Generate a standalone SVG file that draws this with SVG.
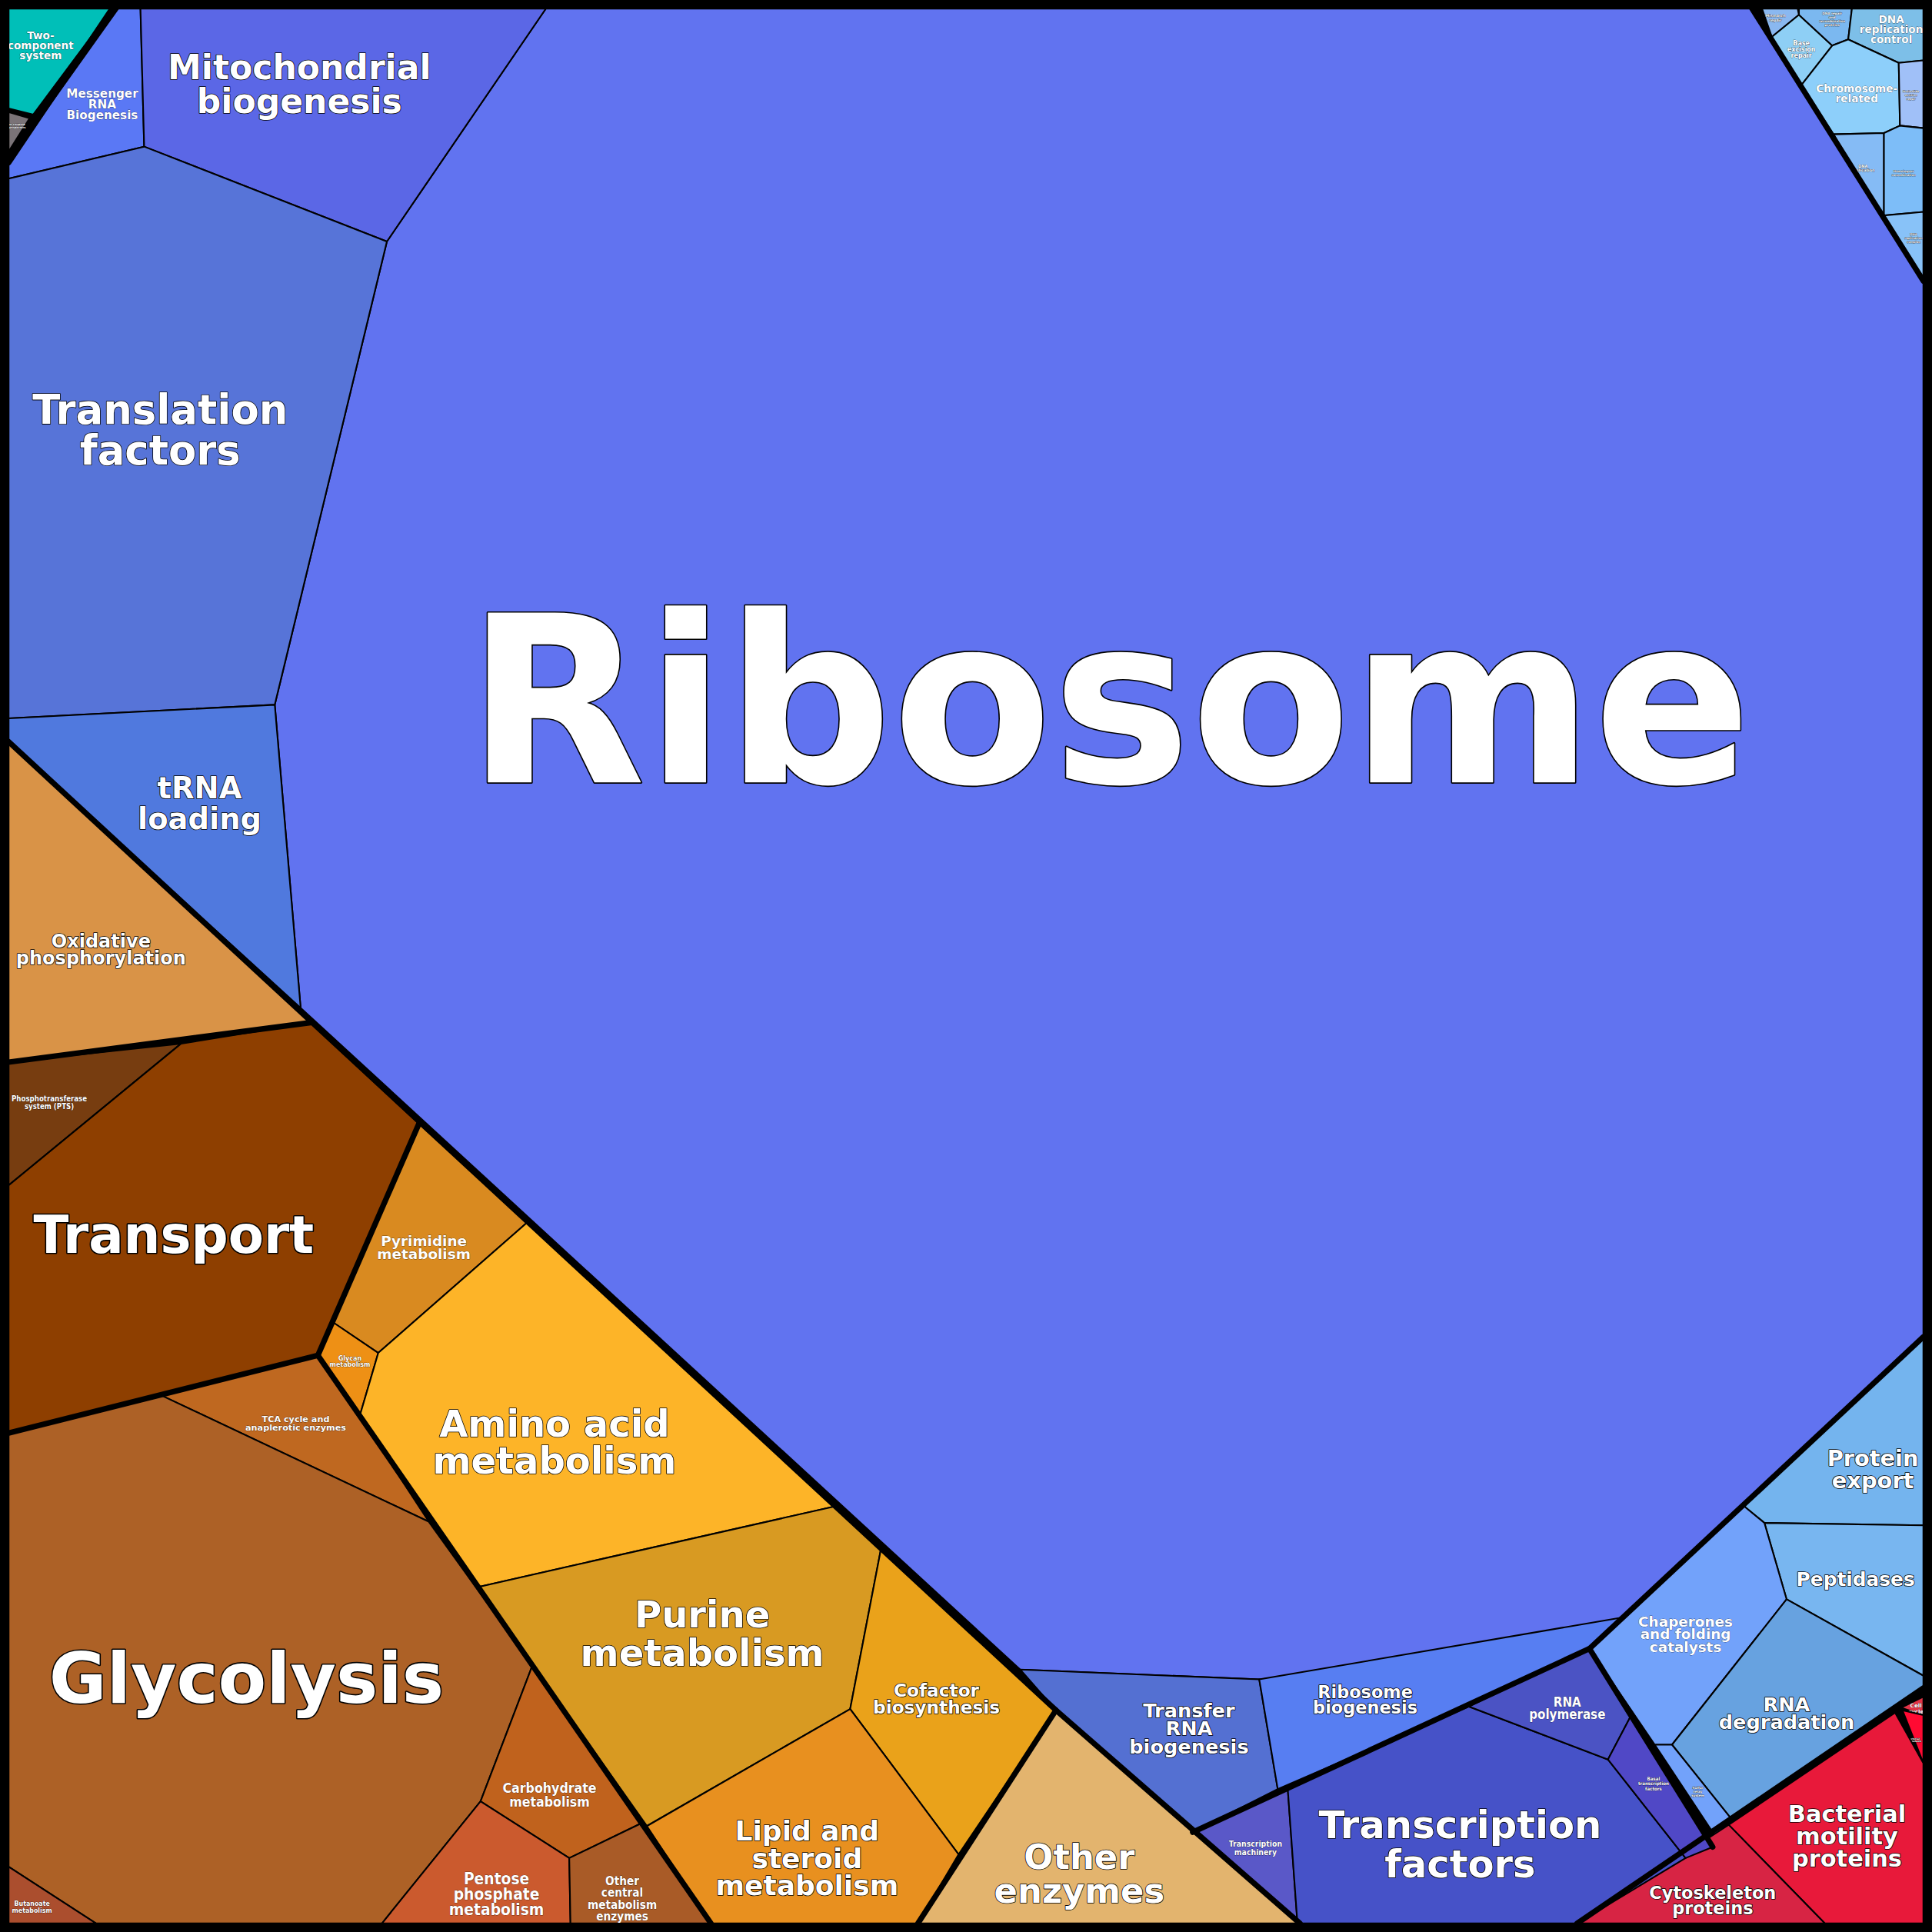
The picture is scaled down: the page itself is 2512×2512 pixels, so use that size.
<svg xmlns="http://www.w3.org/2000/svg" width="2512" height="2512" viewBox="0 0 2512 2512">
<defs>
<style>
.c{stroke:#000;stroke-width:1.3;stroke-linejoin:round}
.b{fill:none;stroke:#000;stroke-width:4.5;stroke-linejoin:round;stroke-linecap:round}
text{font-family:"DejaVu Sans","Liberation Sans",sans-serif;fill:#fff;text-anchor:middle;font-weight:bold;stroke:#000;paint-order:stroke;stroke-linejoin:round}
.s{stroke-width:0.3}
.m{stroke-width:1}
.l{stroke-width:2}
.n{font-family:"DejaVu Sans Condensed","Liberation Sans Narrow","DejaVu Sans",sans-serif}
</style>
</defs>
<rect width="2512" height="2512" fill="#000"/>
<g transform="scale(1.60204)">
<g id="ribosome"><polygon class="c" fill="#6173F0" points="443,7 1422,7 1561,228 1561,1085 1290,1338 1022,1363 828,1355 244,818 223,572 314,196"/><text x="900" y="635" font-size="189" class="l">Ribosome</text></g>
<g id="two-component"><polygon class="c" fill="#00BFB8" points="7,7 91,7 27,93 7,88"/><text x="33" y="32" font-size="8.5" class="s">Two-<tspan x="33" dy="8">component</tspan><tspan x="33" dy="8">system</tspan></text></g>
<g id="ion"><polygon class="c" fill="#7A7377" points="7,91 24,96 7,123"/><text x="13" y="102" font-size="2.2" class="s">Ion-coupled<tspan x="13" dy="2.5">transporters</tspan></text></g>
<g id="messenger"><polygon class="c" fill="#5A78F5" points="96,7 114,7 117,119 7,145 7,132"/><text x="83" y="79" font-size="9.5" class="s" font-weight="normal">Messenger<tspan x="83" dy="9">RNA</tspan><tspan x="83" dy="9">Biogenesis</tspan></text></g>
<g id="mito"><polygon class="c" fill="#5B67E6" points="114,7 443,7 314,196 117,119"/><text x="243" y="64" font-size="27.5" class="m">Mitochondrial<tspan x="243" dy="28">biogenesis</tspan></text></g>
<g id="translation"><polygon class="c" fill="#5774D8" points="7,145 117,119 314,196 223,572 7,583"/><text x="130" y="344" font-size="33" class="m">Translation<tspan x="130" dy="33">factors</tspan></text></g>
<g id="trna"><polygon class="c" fill="#5079DE" points="7,583 223,572 244,818 7,602"/><text x="162" y="648" font-size="24" class="m">tRNA<tspan x="162" dy="25">loading</tspan></text></g>

<g id="mismatch"><polygon class="c" fill="#8AB8F0" points="1430,7 1459,7 1460,12 1438,30"/><text x="1441" y="14" font-size="3" class="s">Mismatch<tspan x="1441" dy="3.5">repair</tspan></text></g>
<g id="base-excision"><polygon class="c" fill="#8ECFF5" points="1438,30 1460,12 1487,37 1462,69"/><text x="1462" y="37" font-size="5" class="s">Base<tspan x="1462" dy="5">excision</tspan><tspan x="1462" dy="5">repair</tspan></text></g>
<g id="dna-repair"><polygon class="c" fill="#7BB8F0" points="1460,7 1503,7 1500,32 1487,37 1460,12"/><text x="1487" y="12" font-size="2.6" class="s">DNA repair<tspan x="1487" dy="3">and</tspan><tspan x="1487" dy="3">recombination</tspan><tspan x="1487" dy="3">proteins</tspan></text></g>
<g id="dna-control"><polygon class="c" fill="#7DBFE8" points="1503,7 1561,7 1561,49 1541,51 1500,32"/><text x="1535" y="19" font-size="8.5" class="s">DNA<tspan x="1535" dy="8">replication</tspan><tspan x="1535" dy="8">control</tspan></text></g>
<g id="chromosome"><polygon class="c" fill="#8DCFFA" points="1462,69 1487,37 1500,32 1541,51 1542,102 1529,108 1488,109"/><text x="1507" y="75" font-size="8.5" class="s">Chromosome-<tspan x="1507" dy="8">related</tspan></text></g>
<g id="nucleotide"><polygon class="c" fill="#A0C0F8" points="1541,51 1561,49 1561,104 1542,102"/><text x="1551" y="75" font-size="2.2" class="s">Nucleotide<tspan x="1551" dy="3">excision</tspan><tspan x="1551" dy="3">repair</tspan></text></g>
<g id="dna-replication"><polygon class="c" fill="#85BBF5" points="1488,109 1529,108 1529,175 1527,175"/><text x="1512" y="136" font-size="3.2" class="s">DNA<tspan x="1512" dy="3.5">replication</tspan></text></g>
<g id="homologous"><polygon class="c" fill="#7DBDF8" points="1529,108 1542,102 1561,104 1561,172 1529,175"/><text x="1545" y="140" font-size="2.4" class="s">Homologous<tspan x="1545" dy="3">recombination</tspan></text></g>
<g id="dna-complex"><polygon class="c" fill="#88C2F8" points="1527,175 1561,172 1561,228"/><text x="1553" y="191" font-size="2.4" class="s">DNA<tspan x="1553" dy="3">replication</tspan><tspan x="1553" dy="3">complex</tspan></text></g>

<g id="protein-export"><polygon class="c" fill="#74B4EE" points="1561,1085 1415,1222 1432,1236 1561,1238"/><text x="1520" y="1190" font-size="18" class="m">Protein<tspan x="1520" dy="18">export</tspan></text></g>
<g id="peptidases"><polygon class="c" fill="#78B6F0" points="1432,1236 1561,1238 1561,1360 1450,1298"/><text x="1506" y="1287" font-size="15.5" class="m">Peptidases</text></g>
<g id="chaperones"><polygon class="c" fill="#72A2FA" points="1415,1222 1432,1236 1450,1298 1357,1416 1343,1416 1290,1338"/><text x="1368" y="1320" font-size="11.5" class="s" font-weight="normal">Chaperones<tspan x="1368" dy="10.5">and folding</tspan><tspan x="1368" dy="10.5">catalysts</tspan></text></g>
<g id="rna-degradation"><polygon class="c" fill="#67A2E0" points="1450,1298 1561,1360 1561,1370 1405,1476 1357,1416"/><text x="1450" y="1389" font-size="16" class="m">RNA<tspan x="1450" dy="14">degradation</tspan></text></g>
<g id="sulfur"><polygon class="c" fill="#72A2FA" points="1343,1416 1357,1416 1405,1476 1392,1490"/><text x="1378" y="1452" font-size="2.6" class="s">Sulfur<tspan x="1378" dy="3">relay</tspan><tspan x="1378" dy="3">system</tspan></text></g>

<g id="cell-cycle"><polygon class="c" fill="#E23346" points="1543,1386 1561,1377 1561,1392"/><text x="1555" y="1386" font-size="4.5" class="s">Cell<tspan x="1555" dy="4.5">cycle</tspan></text></g>
<g id="chemotaxis"><polygon class="c" fill="#FF0A32" points="1544,1388 1561,1392 1561,1431"/><text x="1553" y="1412" font-size="2" class="s">Bacterial<tspan x="1553" dy="2">chemotaxis</tspan></text></g>
<g id="motility"><polygon class="c" fill="#E8193A" points="1403,1481 1538,1390 1561,1431 1561,1561 1481,1561"/><text x="1499" y="1479" font-size="19" class="m">Bacterial<tspan x="1499" dy="18">motility</tspan><tspan x="1499" dy="18">proteins</tspan></text></g>
<g id="cytoskeleton"><polygon class="c" fill="#D72444" points="1403,1481 1481,1561 1280,1561"/><text x="1390" y="1541" font-size="14" class="m">Cytoskeleton<tspan x="1390" dy="12.5">proteins</tspan></text></g>

<g id="transfer-rna"><polygon class="c" fill="#5470D2" points="828,1355 1022,1363 1037,1452 968,1487 857,1388"/><text x="965" y="1394" font-size="16" class="m">Transfer<tspan x="965" dy="14.5">RNA</tspan><tspan x="965" dy="14.5">biogenesis</tspan></text></g>
<g id="ribosome-biogenesis"><polygon class="c" fill="#577EF2" points="1022,1363 1315,1313 1290,1338 1192,1385 1037,1452"/><text x="1108" y="1378" font-size="14" class="m">Ribosome<tspan x="1108" dy="13">biogenesis</tspan></text></g>
<g id="transcription-machinery"><polygon class="c" fill="#5A58C8" points="968,1487 1045,1450 1053,1561 1055,1561"/><text x="1019" y="1499" font-size="6.5" class="s n">Transcription<tspan x="1019" dy="6.5">machinery</tspan></text></g>
<g id="transcription-factors"><polygon class="c" fill="#4652C8" points="1045,1450 1192,1385 1305,1428 1368,1508 1280,1561 1053,1561"/><text x="1185" y="1492" font-size="31" class="m">Transcription<tspan x="1185" dy="32">factors</tspan></text></g>
<g id="rna-polymerase"><polygon class="c" fill="#4B53C4" points="1192,1385 1290,1338 1325,1390 1305,1428"/><text x="1272" y="1385" font-size="10.5" class="s n" font-weight="normal">RNA<tspan x="1272" dy="10">polymerase</tspan></text></g>
<g id="basal"><polygon class="c" fill="#5048C6" points="1305,1428 1325,1390 1390,1499 1368,1508"/><text x="1342" y="1445" font-size="3.8" class="s n">Basal<tspan x="1342" dy="4">transcription</tspan><tspan x="1342" dy="4">factors</tspan></text></g>

<g id="oxidative"><polygon class="c" fill="#D99347" points="7,602 252,830 7,862"/><text x="82" y="769" font-size="15" class="m">Oxidative<tspan x="82" dy="14">phosphorylation</tspan></text></g>
<g id="pts"><polygon class="c" fill="#773D10" points="7,862 147,847 7,962"/><text x="40" y="894" font-size="6" class="s n">Phosphotransferase<tspan x="40" dy="6">system (PTS)</tspan></text></g>
<g id="transport"><polygon class="c" fill="#8E3F00" points="147,847 252,830 340,912 258,1100 7,1163 7,962"/><text x="141" y="1017" font-size="42" class="l">Transport</text></g>
<g id="pyrimidine"><polygon class="c" fill="#D98A20" points="340,912 428,992 307,1098 270,1073"/><text x="344" y="1011" font-size="11.5" class="s">Pyrimidine<tspan x="344" dy="11">metabolism</tspan></text></g>
<g id="glycan"><polygon class="c" fill="#EE9015" points="270,1073 307,1098 292,1149 258,1100"/><text x="284" y="1104" font-size="5" class="s" font-weight="normal">Glycan<tspan x="284" dy="5">metabolism</tspan></text></g>
<g id="tca"><polygon class="c" fill="#BF6820" points="258,1100 292,1149 348,1235 132,1133"/><text x="240" y="1154" font-size="7" class="s">TCA cycle and<tspan x="240" dy="7">anaplerotic enzymes</tspan></text></g>
<g id="glycolysis"><polygon class="c" fill="#AD6126" points="7,1163 132,1133 348,1235 432,1352 390,1462 310,1561 78,1561 7,1515"/><text x="200" y="1382" font-size="57" class="l">Glycolysis</text></g>
<g id="butanoate"><polygon class="c" fill="#AB4E2E" points="7,1515 78,1561 7,1561"/><text x="26" y="1547" font-size="5.5" class="s n">Butanoate<tspan x="26" dy="5.5">metabolism</tspan></text></g>
<g id="carbohydrate"><polygon class="c" fill="#C0621D" points="432,1352 520,1480 462,1508 390,1462"/><text x="446" y="1455" font-size="11" class="s n" font-weight="normal">Carbohydrate<tspan x="446" dy="11">metabolism</tspan></text></g>
<g id="pentose"><polygon class="c" fill="#CB5A2E" points="390,1462 462,1508 463,1561 310,1561"/><text x="403" y="1529" font-size="13" class="s n">Pentose<tspan x="403" dy="12.5">phosphate</tspan><tspan x="403" dy="12.5">metabolism</tspan></text></g>
<g id="other-central"><polygon class="c" fill="#A95B27" points="462,1508 520,1480 577,1561 463,1561"/><text x="505" y="1530" font-size="9.5" class="s n" font-weight="normal">Other<tspan x="505" dy="9.5">central</tspan><tspan x="505" dy="9.5">metabolism</tspan><tspan x="505" dy="9.5">enzymes</tspan></text></g>
<g id="amino-acid"><polygon class="c" fill="#FDB428" points="428,992 680,1222 388,1288 292,1149 307,1098"/><text x="450" y="1166" font-size="30" class="m">Amino acid<tspan x="450" dy="30">metabolism</tspan></text></g>
<g id="purine"><polygon class="c" fill="#D89A22" points="388,1288 680,1222 715,1257 690,1387 525,1482"/><text x="570" y="1321" font-size="30" class="m">Purine<tspan x="570" dy="31">metabolism</tspan></text></g>
<g id="cofactor"><polygon class="c" fill="#EAA21A" points="715,1257 857,1388 778,1505 690,1387"/><text x="760" y="1377" font-size="14.5" class="m">Cofactor<tspan x="760" dy="14">biosynthesis</tspan></text></g>
<g id="lipid"><polygon class="c" fill="#E8901F" points="525,1482 690,1387 778,1505 745,1561 577,1561"/><text x="655" y="1494" font-size="22.5" class="m">Lipid and<tspan x="655" dy="22">steroid</tspan><tspan x="655" dy="22">metabolism</tspan></text></g>
<g id="other-enzymes"><polygon class="c" fill="#E3B46E" points="857,1388 1055,1561 745,1561"/><text x="876" y="1517" font-size="28" class="m">Other<tspan x="876" dy="27">enzymes</tspan></text></g>

<g id="borders">
<polyline class="b" points="7,602 857,1388 745,1561"/>
<polyline class="b" points="857,1388 1055,1561"/>
<polyline class="b" points="7,862 252,830"/>
<polyline class="b" points="7,1163 258,1100 340,912"/>
<polyline class="b" points="258,1100 577,1561"/>
<polyline class="b" points="968,1487 1290,1338 1390,1499"/>
<polyline class="b" points="1561,1085 1290,1338"/>
<polyline class="b" points="1561,1370 1280,1561"/>
<polyline class="b" points="1422,7 1561,228"/>
<polyline class="b" points="91,7 7,132"/>
<rect x="3.5" y="3.5" width="1561" height="1561" fill="none" stroke="#000" stroke-width="8"/>
</g>
</g>
</svg>
